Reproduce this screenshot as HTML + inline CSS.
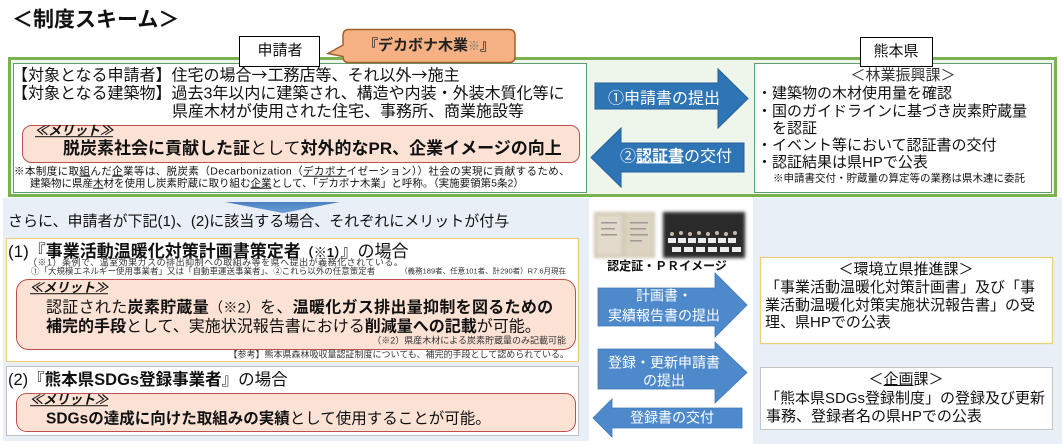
<!DOCTYPE html>
<html><head><meta charset="utf-8">
<style>
html,body{margin:0;padding:0;background:#fff;}
#w{position:relative;width:1062px;height:444px;overflow:hidden;background:#fff;font-family:"Liberation Sans","Noto Sans CJK JP",sans-serif;color:#111;}
svg{position:absolute;left:0;top:0;}
.t{position:absolute;white-space:nowrap;transform:translateY(-50%);line-height:1.2;}
.c{position:absolute;white-space:nowrap;transform:translate(-50%,-50%);line-height:1.2;}
.r{position:absolute;white-space:nowrap;transform:translate(-100%,-50%);line-height:1.2;}
.m{font-weight:bold;font-style:italic;text-decoration:underline;font-size:13px;}
.wh{color:#fff;}
.ar{font-family:"Noto Sans CJK JP",sans-serif;}
b{font-weight:bold;}
u{text-decoration:underline;}
</style></head><body>
<div id="w">
<svg width="1062" height="444" viewBox="0 0 1062 444">
  <defs>
    <filter id="bl" x="-10%" y="-10%" width="120%" height="120%"><feGaussianBlur stdDeviation="1.6"/></filter>
    <linearGradient id="tg" x1="0" y1="0" x2="0" y2="1"><stop offset="0" stop-color="#4A7FC1"/><stop offset="1" stop-color="#6C9FD8"/></linearGradient>
  </defs>
  <rect x="9.5" y="58.5" width="1046" height="137" fill="#EEF5EA" stroke="#7AB24F" stroke-width="3"/>
  <rect x="13.5" y="63.5" width="573" height="129" fill="#fff" stroke="#5E9E6E" stroke-width="1"/>
  <rect x="754.5" y="63.5" width="297" height="129" fill="#fff" stroke="#5E9E6E" stroke-width="1"/>
  <rect x="22.5" y="125.5" width="557" height="37" rx="9" fill="#FBE2D5" stroke="#C0504D" stroke-width="1"/>
  <rect x="239.5" y="36.5" width="80" height="30" fill="#fff" stroke="#000" stroke-width="1"/>
  <rect x="860.5" y="37.5" width="72" height="29" fill="#fff" stroke="#000" stroke-width="1"/>
  <path d="M349,29.5 H509 Q515,29.5 515,35.5 V56.5 Q515,62.5 509,62.5 H349 Q343,62.5 343,56.5 L328,53.5 L343,45 V35.5 Q343,29.5 349,29.5 Z" fill="#F5B183" stroke="#A0612A" stroke-width="1.5"/>
  <path d="M595,83 H718 V69 L748,98.5 L718,128 V109 H595 Z" fill="#2E75B6" stroke="#25609A" stroke-width="1"/>
  <path d="M591,157.5 L621,128 V143 H744 V172 H621 V187 Z" fill="#2E75B6" stroke="#25609A" stroke-width="1"/>
  <rect x="3" y="198" width="586" height="243" fill="#E9EFF7"/>
  <rect x="753" y="198" width="309" height="246" fill="#E9EFF7"/>
  <path d="M225,202 H340 L283,213 Z" fill="url(#tg)"/>
  <rect x="6.5" y="238.5" width="572" height="123" fill="#fff" stroke="#EDD07A" stroke-width="1.2"/>
  <rect x="16.5" y="279.5" width="559" height="70" rx="12" fill="#FBE2D5" stroke="#C0504D" stroke-width="1"/>
  <rect x="6.5" y="366.5" width="572" height="69" fill="#fff" stroke="#BFBFBF" stroke-width="1"/>
  <rect x="16.5" y="393.5" width="559" height="38" rx="10" fill="#FBE2D5" stroke="#C0504D" stroke-width="1"/>
  <rect x="760.5" y="257.5" width="292" height="86" fill="#fff" stroke="#EDD07A" stroke-width="1.3"/>
  <rect x="760.5" y="367.5" width="292" height="62" fill="#fff" stroke="#C4C4C4" stroke-width="1"/>
  <path d="M598,288 H715 V273 L747,305 L715,337 V326 H598 Z" fill="#4E8ACB" stroke="#3F78B5" stroke-width="0.8"/>
  <path d="M598,349 H715 V342 L747,372.5 L715,403 V389 H598 Z" fill="#4E8ACB" stroke="#3F78B5" stroke-width="0.8"/>
  <path d="M593,418 L612,399 V408 H742 V428 H612 V437 Z" fill="#4E8ACB" stroke="#3F78B5" stroke-width="0.8"/>
  <g filter="url(#bl)">
    <rect x="594" y="212" width="61" height="46" fill="#CFC6B2"/>
    <rect x="597" y="215" width="25" height="40" fill="#E2DACA"/>
    <rect x="625" y="214" width="28" height="42" fill="#DCD3C1"/>
    <rect x="663" y="212" width="82" height="46" fill="#2B2B2B"/>
  </g>
  <g fill="#9A9A9A">
    <rect x="601" y="222" width="16" height="1.5"/><rect x="601" y="228" width="14" height="1.5"/><rect x="601" y="234" width="16" height="1.5"/>
    <rect x="630" y="222" width="18" height="1.5"/><rect x="630" y="228" width="16" height="1.5"/><rect x="630" y="234" width="18" height="1.5"/><rect x="630" y="240" width="12" height="1.5"/>
  </g>
  <g fill="#C9B9A5">
    <circle cx="672" cy="234" r="2"/><circle cx="681" cy="233" r="2"/><circle cx="690" cy="234" r="2"/><circle cx="699" cy="233" r="2"/><circle cx="708" cy="234" r="2"/><circle cx="717" cy="233" r="2"/><circle cx="726" cy="234" r="2"/><circle cx="735" cy="233" r="2"/>
  </g>
  <g fill="#EDEDED">
    <rect x="668" y="238" width="8" height="5"/><rect x="678" y="238" width="8" height="5"/><rect x="688" y="238" width="8" height="5"/><rect x="698" y="238" width="8" height="5"/><rect x="708" y="238" width="8" height="5"/><rect x="718" y="238" width="8" height="5"/><rect x="728" y="238" width="8" height="5"/>
    <rect x="672" y="247" width="9" height="5"/><rect x="684" y="247" width="9" height="5"/><rect x="696" y="247" width="9" height="5"/><rect x="708" y="247" width="9" height="5"/><rect x="720" y="247" width="9" height="5"/><rect x="732" y="247" width="9" height="5"/>
  </g>
</svg>

<div class="t" style="left:12px;top:20px;font-size:21px;font-weight:bold;">＜制度スキーム＞</div>
<div class="c" style="left:280px;top:51px;font-size:15px;">申請者</div>
<div class="c" style="left:429px;top:46px;font-size:15px;font-weight:bold;color:#222;">『デカボナ木業<span style="font-weight:normal;color:#777;font-size:12px;">※</span>』</div>
<div class="c" style="left:896px;top:52px;font-size:15px;">熊本県</div>

<div class="t" style="left:12px;top:75px;font-size:16px;">【対象となる申請者】住宅の場合<span class="ar">→</span>工務店等、それ以外<span class="ar">→</span>施主</div>
<div class="t" style="left:12px;top:94px;font-size:16px;">【対象となる建築物】過去3年以内に建築され、構造や内装・外装木質化等に</div>
<div class="t" style="left:172px;top:112px;font-size:16px;">県産木材が使用された住宅、事務所、商業施設等</div>
<div class="t m" style="left:35px;top:131px;">≪メリット≫</div>
<div class="t" style="left:63px;top:149px;font-size:17px;"><b>脱炭素社会に貢献した証</b>として<b>対外的なPR、企業イメージの向上</b></div>
<div class="t" style="left:14px;top:172px;font-size:10.5px;letter-spacing:0.4px;">※本制度に取<u>組</u>んだ<u>企</u>業等は、脱炭素（Decarbonization（<u>デカボナ</u>イゼーション））社会の実現に貢献するため、</div>
<div class="t" style="left:30px;top:184px;font-size:10.5px;">建築物に県産<u>木</u>材を使用し炭素貯蔵に取り組む<u>企業</u>として、「デカボナ木業」と呼称。（実施要領第5条2）</div>

<div class="t wh" style="left:608px;top:99px;font-size:16px;">①申請書の提出</div>
<div class="t wh" style="left:620px;top:157px;font-size:16px;">②<b><u>認証書</u></b>の交付</div>

<div class="c" style="left:903px;top:76px;font-size:15px;color:#333;">＜林業振興課＞</div>
<div class="t" style="left:757px;top:94px;font-size:15px;">・建築物の木材使用量を確認</div>
<div class="t" style="left:757px;top:112px;font-size:15px;">・国のガイドラインに基づき炭素貯蔵量</div>
<div class="t" style="left:772px;top:129px;font-size:15px;">を認証</div>
<div class="t" style="left:757px;top:146px;font-size:15px;">・イベント等において認証書の交付</div>
<div class="t" style="left:757px;top:163px;font-size:15px;">・認証結果は県HPで公表</div>
<div class="t" style="left:773px;top:179px;font-size:10.5px;">※申請書交付・貯蔵量の算定等の業務は県木連に委託</div>

<div class="t" style="left:8px;top:222px;font-size:15px;">さらに、申請者が下記(1)、(2)に該当する場合、それぞれにメリットが付与</div>
<div class="t" style="left:8px;top:252px;font-size:17px;">(1)『<b>事業活動温暖化対策計画書策定者</b><b style="font-size:13px;">（※1）</b>』の場合</div>
<div class="t" style="left:28px;top:263px;font-size:9px;letter-spacing:0.5px;color:#333;">（※1）条例で、温室効果ガスの排出抑制への取組み等を県へ提出が義務化されている。</div>
<div class="t" style="left:31px;top:271px;font-size:8.5px;color:#333;">①「大規模エネルギー使用事業者」又は「自動車運送事業者」、②これら以外の任意策定者</div>
<div class="r" style="left:566px;top:271px;font-size:7.5px;color:#333;">（義務189者、任意101者、計290者）R7.6月現在</div>
<div class="t m" style="left:30px;top:288px;">≪メリット≫</div>
<div class="t" style="left:46px;top:308px;font-size:16px;letter-spacing:0.3px;">認証された<b>炭素貯蔵量</b><span style="font-size:14px;">（※2）</span>を、<b>温暖化ガス排出量抑制を図るための</b></div>
<div class="t" style="left:46px;top:327px;font-size:16px;"><b>補完的手段</b>として、実施状況報告書における<b>削減量への記載</b>が可能。</div>
<div class="r" style="left:566px;top:341px;font-size:9px;color:#333;">（※2）県産木材による炭素貯蔵量のみ記載可能</div>
<div class="r" style="left:569px;top:355px;font-size:9px;color:#333;">【参考】熊本県森林吸収量認証制度についても、補完的手段として認められている。</div>
<div class="t" style="left:8px;top:381px;font-size:16.5px;">(2)『<b>熊本県SDGs登録事業者</b>』の場合</div>
<div class="t m" style="left:30px;top:400px;">≪メリット≫</div>
<div class="t" style="left:46px;top:420px;font-size:15.5px;"><b>SDGsの達成に向けた取組みの実績</b>として使用することが可能。</div>

<div class="c" style="left:667px;top:266px;font-size:12px;font-weight:bold;">認定証・ＰＲイメージ</div>
<div class="c wh" style="left:664px;top:296px;font-size:14px;">計画書・</div>
<div class="c wh" style="left:664px;top:316px;font-size:14px;">実績報告書の提出</div>
<div class="c wh" style="left:664px;top:363px;font-size:14px;">登録・更新申請書</div>
<div class="c wh" style="left:664px;top:381px;font-size:14px;">の提出</div>
<div class="c wh" style="left:672px;top:418px;font-size:14px;">登録書の交付</div>

<div class="c" style="left:906px;top:270px;font-size:15px;">＜環境立県推進課＞</div>
<div class="t" style="left:765px;top:288px;font-size:15px;">「事業活動温暖化対策計画書」及び「事</div>
<div class="t" style="left:765px;top:306px;font-size:15px;">業活動温暖化対策実施状況報告書」の受</div>
<div class="t" style="left:765px;top:323px;font-size:15px;">理、県HPでの公表</div>
<div class="c" style="left:906px;top:380px;font-size:15px;">＜<u>企画</u>課＞</div>
<div class="t" style="left:765px;top:399px;font-size:15px;">「熊本県SDGs登録制度」の登録及び更新</div>
<div class="t" style="left:766px;top:417px;font-size:15px;">事務、登録者名の県HPでの公表</div>
</div>
</body></html>
